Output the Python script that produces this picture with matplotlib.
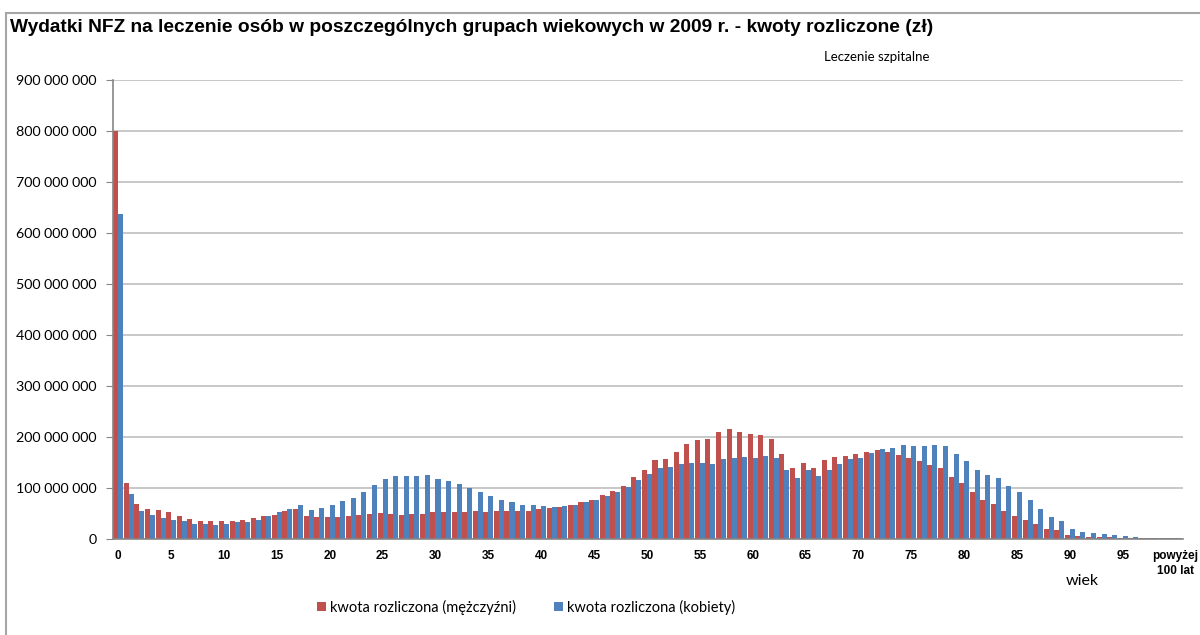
import numpy as np
import matplotlib.pyplot as plt
from matplotlib.patches import Rectangle
from matplotlib.ticker import FuncFormatter

# kwoty w setkach milionów zł, wiek 0..99 oraz "powyżej 100 lat"
men = [8.00, 1.10, 0.69, 0.59, 0.57, 0.52, 0.46, 0.40, 0.36, 0.36,
       0.36, 0.36, 0.38, 0.42, 0.46, 0.48, 0.54, 0.59, 0.46, 0.44,
       0.44, 0.44, 0.46, 0.48, 0.50, 0.51, 0.50, 0.48, 0.50, 0.50,
       0.52, 0.52, 0.52, 0.52, 0.54, 0.52, 0.54, 0.54, 0.54, 0.54,
       0.58, 0.61, 0.63, 0.67, 0.73, 0.76, 0.86, 0.95, 1.03, 1.22,
       1.36, 1.54, 1.57, 1.71, 1.86, 1.94, 1.97, 2.10, 2.16, 2.10,
       2.06, 2.04, 1.97, 1.67, 1.40, 1.50, 1.40, 1.54, 1.61, 1.63,
       1.67, 1.71, 1.75, 1.71, 1.65, 1.58, 1.52, 1.46, 1.40, 1.22,
       1.09, 0.92, 0.76, 0.68, 0.55, 0.45, 0.37, 0.29, 0.20, 0.18,
       0.085, 0.06, 0.04, 0.04, 0.04, 0.02, 0.02, 0.02, 0.015, 0.015,
       0.015]
women = [6.38, 0.88, 0.55, 0.48, 0.42, 0.38, 0.36, 0.30, 0.30, 0.28,
         0.30, 0.34, 0.33, 0.38, 0.46, 0.52, 0.59, 0.67, 0.56, 0.61,
         0.67, 0.75, 0.81, 0.92, 1.05, 1.17, 1.24, 1.24, 1.24, 1.26,
         1.18, 1.13, 1.07, 1.00, 0.92, 0.84, 0.76, 0.72, 0.67, 0.67,
         0.65, 0.63, 0.65, 0.66, 0.72, 0.76, 0.84, 0.93, 1.02, 1.15,
         1.28, 1.40, 1.42, 1.47, 1.49, 1.49, 1.47, 1.56, 1.59, 1.61,
         1.58, 1.63, 1.59, 1.36, 1.19, 1.35, 1.24, 1.35, 1.48, 1.57,
         1.59, 1.69, 1.77, 1.79, 1.85, 1.83, 1.83, 1.84, 1.82, 1.67,
         1.52, 1.35, 1.25, 1.20, 1.03, 0.92, 0.76, 0.59, 0.43, 0.35,
         0.20, 0.14, 0.12, 0.10, 0.08, 0.06, 0.04, 0.02, 0.015, 0.015,
         0.015]
tick_pos = list(range(0, 101, 5))
tick_labels = [str(a) for a in range(0, 100, 5)] + ['powyżej\n100 lat']

RED = '#C0504D'
BLUE = '#4F81BD'

men_zl = np.array(men) * 1e8
women_zl = np.array(women) * 1e8
x = np.arange(len(men))

fig = plt.figure(figsize=(12, 6.35), dpi=100)
ax = fig.add_axes([113 / 1200, 96 / 635, 1070 / 1200, 459 / 635])

w = 0.475
ax.bar(x - w / 2, men_zl, width=w, color=RED, label='kwota rozliczona (mężczyźni)')
ax.bar(x + w / 2, women_zl, width=w, color=BLUE, label='kwota rozliczona (kobiety)')

ax.set_xlim(-0.5, len(x) - 0.5 + 0.2)
ax.set_ylim(0, 9e8)
ax.set_yticks(np.arange(0, 9.01e8, 1e8))
ax.yaxis.set_major_formatter(FuncFormatter(lambda v, p: f'{int(v):,}'.replace(',', ' ')))
ax.set_xticks(tick_pos)
ax.set_xticklabels(tick_labels, fontfamily='Liberation Sans', fontweight='bold',
                   fontsize=8.5, linespacing=1.3)
ax.tick_params(axis='x', length=0, pad=8)
ax.tick_params(axis='y', length=5, color='#868686', labelsize=10.3, pad=7)
for lab in ax.get_yticklabels():
    lab.set_fontfamily('Lato')

ax.grid(axis='y', color='#BFBFBF', linewidth=1.2)
ax.set_axisbelow(True)
for side in ('top', 'right'):
    ax.spines[side].set_visible(False)
ax.spines['left'].set_color('#868686')
ax.spines['bottom'].set_color('#868686')
ax.spines['left'].set_linewidth(1.2)
ax.spines['bottom'].set_linewidth(1.2)

fig.text(10 / 1200, 1 - 28 / 635, 'Wydatki NFZ na leczenie osób w poszczególnych grupach wiekowych w 2009 r. - kwoty rozliczone (zł)',
         fontfamily='Liberation Sans', fontweight='bold', fontsize=13.8, va='center', ha='left')
fig.text(877 / 1200, 1 - 57 / 635, 'Leczenie szpitalne', fontfamily='Lato', fontsize=9.5,
         ha='center', va='center')
fig.text(1082 / 1200, 1 - 581 / 635, 'wiek', fontfamily='Lato', fontsize=11.5,
         ha='center', va='center')

fig.legend(loc='center', bbox_to_anchor=(526 / 1200, 1 - 607 / 635), ncol=2, frameon=False,
           prop={'family': 'Lato', 'size': 10.5}, handlelength=0.6, handleheight=0.6,
           handletextpad=0.3, columnspacing=2.6)

fig.patches.append(Rectangle((6 / 1200, -0.1), 1.2, 1.1 - 13 / 635, transform=fig.transFigure,
                             fill=False, edgecolor='#A6A6A6', linewidth=1.5))

fig.savefig('out.png', dpi=100)
